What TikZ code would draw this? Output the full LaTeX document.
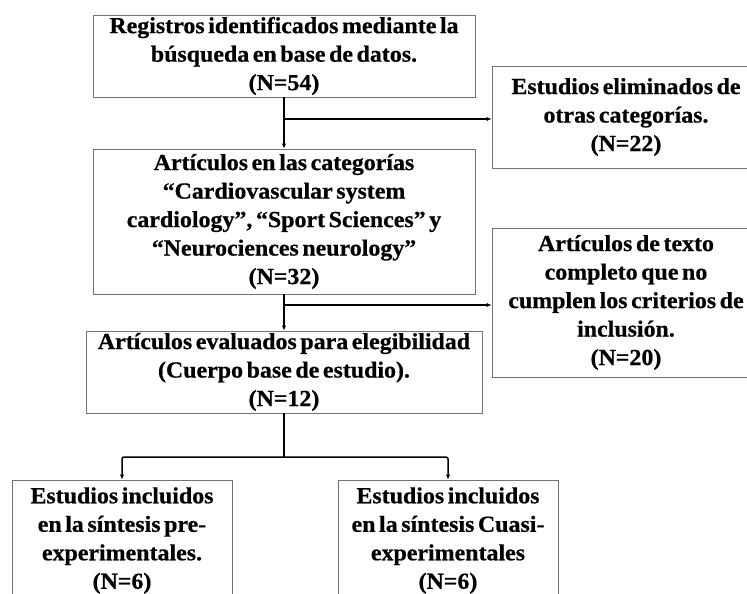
\documentclass[tikz,border=0pt]{standalone}
\usepackage{fontspec}
\setmainfont{Liberation Serif}[WordSpace=0.6, FakeBold=0.6, FakeStretch=1.04]
\usetikzlibrary{arrows.meta}
\begin{document}
\begin{tikzpicture}[x=1pt,y=-1pt,
  box/.style={draw=black!55, line width=0.9pt, align=center, inner sep=0pt,
    font=\fontsize{23}{28.5}\selectfont\bfseries},
  conn/.style={line width=1.5pt, -{Latex[length=5pt,width=4.5pt]}},
  plain/.style={line width=1.5pt}]
\useasboundingbox (0,0) rectangle (747,594);
\fill[white] (0,0) rectangle (747,594);
\node[box, minimum width=382pt, minimum height=82pt] (b1) at (284,56)
  {Registros identificados mediante la\\búsqueda en base de datos.\\(N=54)};
\node[box, minimum width=268pt, minimum height=102pt] (b2) at (626,117)
  {Estudios eliminados de\\otras categorías.\\(N=22)};
\node[box, minimum width=382pt, minimum height=145pt] (b3) at (284,221.5)
  {Artículos en las categorías\\“Cardiovascular system\\cardiology”, “Sport Sciences” y\\“Neurociences neurology”\\(N=32)};
\node[box, minimum width=268pt, minimum height=149pt] (b4) at (626,302.5)
  {Artículos de texto\\completo que no\\cumplen los criterios de\\inclusión.\\(N=20)};
\node[box, minimum width=396pt, minimum height=82pt] (b5) at (284,372)
  {Artículos evaluados para elegibilidad\\(Cuerpo base de estudio).\\(N=12)};
\node[box, minimum width=220pt, minimum height=121pt] (b6) at (122,540.5)
  {Estudios incluidos\\en la síntesis pre-\\experimentales.\\(N=6)};
\node[box, minimum width=220pt, minimum height=121pt] (b7) at (448,540.5)
  {Estudios incluidos\\en la síntesis Cuasi-\\experimentales\\(N=6)};
\draw[conn] (b1.south) -- (b3.north);
\coordinate (j1) at (284,119);
\draw[conn] (j1) -- (j1 -| b2.west);
\draw[conn] (b3.south) -- (b5.north);
\coordinate (j2) at (284,305);
\draw[conn] (j2) -- (j2 -| b4.west);
\coordinate (j3) at (284,457);
\draw[plain] (b5.south) -- (j3);
\draw[conn, rounded corners=2pt] (j3) -- (j3 -| b6.north) -- (b6.north);
\draw[conn, rounded corners=2pt] (j3) -- (j3 -| b7.north) -- (b7.north);
\end{tikzpicture}
\end{document}
